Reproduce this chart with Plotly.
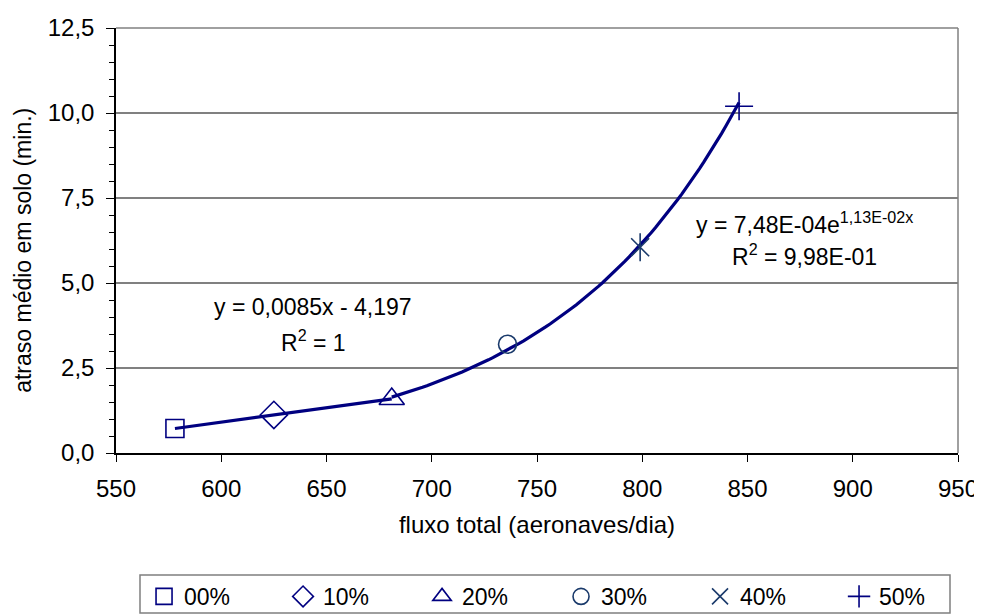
import numpy as np
import plotly.graph_objects as go

# data
labels = ["00%", "10%", "20%", "30%", "40%", "50%"]
flux = [578, 625, 681, 736, 799, 846]
delay = [0.72, 1.12, 1.59, 3.2, 6.05, 10.2]
symbols = ["square-open", "diamond-open", "triangle-up-open", "circle-open", "x-thin-open", "cross-thin-open"]
sizes = [18, 21, 22, 18, 18, 20]
colors = ["#000080", "#000080", "#000080", "#1a3a6b", "#1a3a6b", "#000080"]
x_ticks = [550, 600, 650, 700, 750, 800, 850, 900, 950]
y_ticks = [0, 2.5, 5, 7.5, 10, 12.5]

fig = go.Figure()

# trend lines fitted from the data
lin = np.polyfit(flux[:3], delay[:3], 1)
xl = np.linspace(flux[0], flux[2], 20)
fig.add_trace(go.Scatter(x=xl, y=np.polyval(lin, xl), mode="lines",
                         line=dict(color="#000080", width=3.2), showlegend=False, hoverinfo="skip"))
ex = np.polyfit(flux[2:], np.log(delay[2:]), 1)
xe = np.linspace(flux[2], flux[5], 80)
fig.add_trace(go.Scatter(x=xe, y=np.exp(np.polyval(ex, xe)), mode="lines",
                         line=dict(color="#000080", width=3.2), showlegend=False, hoverinfo="skip"))

for i, lab in enumerate(labels):
    fig.add_trace(go.Scatter(x=[flux[i]], y=[delay[i]], mode="markers", name=lab,
                             legendgroup=lab,
                             marker=dict(symbol=symbols[i], size=sizes[i], color=colors[i],
                                         line=dict(width=1.6, color=colors[i]))))
    if lab == "40%":
        fig.add_trace(go.Scatter(x=[flux[i]], y=[delay[i]], mode="markers", showlegend=False,
                                 legendgroup=lab,
                                 marker=dict(symbol="line-ns-open", size=20, color=colors[i],
                                             line=dict(width=1.6, color=colors[i]))))

fam = "Liberation Sans, Arial, sans-serif"
tick_font = dict(family=fam, size=24, color="black")
xtitle_font = dict(family=fam, size=24, color="black")
ytitle_font = dict(family=fam, size=23, color="black")
ann_font = dict(family=fam, size=23, color="black")
leg_font = dict(family=fam, size=23, color="black")

for txt, x, y in [("y = 0,0085x - 4,197", 0.234, 0.308),
                  ("R<sup>2</sup> = 1", 0.234, 0.224),
                  ("y = 7,48E-04e<sup>1,13E-02x</sup>", 0.818, 0.501),
                  ("R<sup>2</sup> = 9,98E-01", 0.818, 0.426)]:
    fig.add_annotation(x=x, y=y, xref="paper", yref="paper", showarrow=False,
                       xanchor="center", yanchor="bottom", text=txt, font=ann_font)

# y axis title
fig.add_annotation(x=-0.1105, y=0.478, xref="paper", yref="paper", showarrow=False,
                   xanchor="center", yanchor="middle", textangle=-90,
                   text="atraso médio em solo (min.)", font=ytitle_font)

# top/right gray border
fig.add_shape(type="line", xref="paper", yref="paper", x0=0, x1=1, y0=1, y1=1,
              line=dict(color="#808080", width=1.5))
fig.add_shape(type="line", xref="paper", yref="paper", x0=1, x1=1, y0=0, y1=1,
              line=dict(color="#808080", width=1.5))
# legend box
fig.add_shape(type="rect", xref="paper", yref="paper", x0=0.0285, x1=0.9905,
              y0=-0.3765, y1=-0.287, line=dict(color="#7f7f7f", width=1.5),
              fillcolor="rgba(0,0,0,0)")

fig.update_layout(
    width=982, height=615,
    margin=dict(l=108, r=32, t=20, b=170, autoexpand=False),
    paper_bgcolor="white", plot_bgcolor="white",
    font=tick_font,
    separators=", ",
    xaxis=dict(range=[550, 950], tickvals=x_ticks, showgrid=False, zeroline=False,
               showline=True, linecolor="black", linewidth=1.5, automargin=False,
               ticks="outside", ticklen=7, tickcolor="black", tickfont=tick_font,
               ticklabelstandoff=6,
               title=dict(text="fluxo total (aeronaves/dia)", font=xtitle_font, standoff=16)),
    yaxis=dict(range=[0, 12.5], tickvals=y_ticks, tickformat=".1f",
               showgrid=True, gridcolor="#808080", gridwidth=1.5, zeroline=False,
               showline=True, linecolor="black", linewidth=1.5, automargin=False,
               ticks="outside", ticklen=8, tickcolor="black", tickfont=tick_font,
               ticklabelstandoff=7,
               minor=dict(dtick=0.5, ticks="outside", ticklen=5, tickcolor="black", showgrid=False)),
    legend=dict(orientation="h", x=0.0333, xanchor="left",
                y=-0.287, yanchor="top", bgcolor="rgba(0,0,0,0)",
                borderwidth=0, entrywidth=94, itemwidth=30,
                font=leg_font, traceorder="normal"),
)

fig.write_html("out.html")
